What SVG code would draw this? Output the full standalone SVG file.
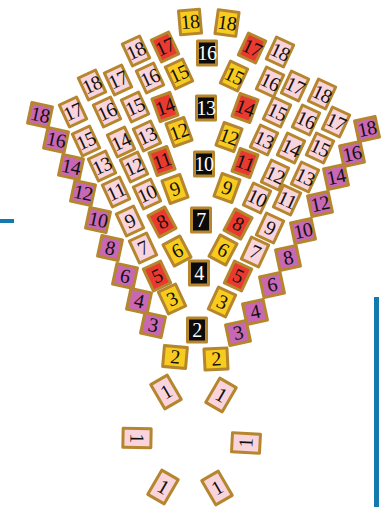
<svg xmlns="http://www.w3.org/2000/svg" width="382" height="507" viewBox="0 0 382 507">
<style>
rect.t{stroke:#b5862e;stroke-width:3;stroke-linejoin:round}
.p rect{fill:#fad4dc}
.r rect{fill:#ea3a2f}
.y rect{fill:#f8cc1e}
.k rect{fill:#0b0b0b}
.m rect{fill:#c868b4}
text{font-family:"Liberation Serif","DejaVu Serif",serif;font-size:20px;letter-spacing:-0.6px;text-anchor:middle;fill:#111}
.k text{fill:#fff}
</style>
<rect x="0" y="219" width="14" height="4" fill="#1479ad"/>
<rect x="374" y="297" width="5" height="210" fill="#1479ad"/>
<g id="tiles">
<!-- top -->
<g id="y18L" class="y" transform="translate(190,22) rotate(-5)"><rect class="t" x="-10.5" y="-12" width="21" height="24"/><text y="6.5">18</text></g>
<g id="y18R" class="y" transform="translate(227,23) rotate(8)"><rect class="t" x="-10.5" y="-12" width="21" height="24"/><text y="6.5">18</text></g>
<!-- black column -->
<g id="k16" class="k" transform="translate(207,53)"><rect class="t" x="-9.5" y="-12" width="19" height="24"/><text y="6.5">16</text></g>
<g id="k13" class="k" transform="translate(206,108)"><rect class="t" x="-9.5" y="-12" width="19" height="24"/><text y="6.5">13</text></g>
<g id="k10" class="k" transform="translate(204,164)"><rect class="t" x="-9.5" y="-12" width="19" height="24"/><text y="6.5">10</text></g>
<g id="k7" class="k" transform="translate(201,220)"><rect class="t" x="-9.5" y="-12" width="19" height="24"/><text y="6.5">7</text></g>
<g id="k4" class="k" transform="translate(199,273)"><rect class="t" x="-9.5" y="-12" width="19" height="24"/><text y="6.5">4</text></g>
<g id="k2" class="k" transform="translate(197,330)"><rect class="t" x="-9.5" y="-12" width="19" height="24"/><text y="6.5">2</text></g>
<!-- left yellow -->
<g id="yL15" class="y" transform="translate(179,74) rotate(-25)"><rect class="t" x="-9.5" y="-12" width="19" height="24"/><text y="6.5">15</text></g>
<g id="yL12" class="y" transform="translate(179,132) rotate(-20)"><rect class="t" x="-9.5" y="-12" width="19" height="24"/><text y="6.5">12</text></g>
<g id="yL9" class="y" transform="translate(175,189) rotate(-20)"><rect class="t" x="-9.5" y="-12" width="19" height="24"/><text y="6.5">9</text></g>
<g id="yL6" class="y" transform="translate(177,251) rotate(-28)"><rect class="t" x="-9.5" y="-12" width="19" height="24"/><text y="6.5">6</text></g>
<g id="yL3" class="y" transform="translate(172,299) rotate(-25)"><rect class="t" x="-9.5" y="-12" width="19" height="24"/><text y="6.5">3</text></g>
<g id="yL2" class="y" transform="translate(175,357) rotate(5)"><rect class="t" x="-11.5" y="-10.5" width="23" height="21"/><text y="6.5">2</text></g>
<!-- right yellow -->
<g id="yR15" class="y" transform="translate(234,76) rotate(25)"><rect class="t" x="-9.5" y="-12" width="19" height="24"/><text y="6.5">15</text></g>
<g id="yR12" class="y" transform="translate(229,137) rotate(20)"><rect class="t" x="-9.5" y="-12" width="19" height="24"/><text y="6.5">12</text></g>
<g id="yR9" class="y" transform="translate(227,188) rotate(20)"><rect class="t" x="-9.5" y="-12" width="19" height="24"/><text y="6.5">9</text></g>
<g id="yR6" class="y" transform="translate(223,250) rotate(28)"><rect class="t" x="-9.5" y="-12" width="19" height="24"/><text y="6.5">6</text></g>
<g id="yR3" class="y" transform="translate(222,302) rotate(25)"><rect class="t" x="-9.5" y="-12" width="19" height="24"/><text y="6.5">3</text></g>
<g id="yR2" class="y" transform="translate(216,359) rotate(-3)"><rect class="t" x="-11.5" y="-10.5" width="23" height="21"/><text y="6.5">2</text></g>
<!-- red -->
<g id="rL17" class="r" transform="translate(165,47) rotate(-25)"><rect class="t" x="-9.5" y="-12" width="19" height="24"/><text y="6.5">17</text></g>
<g id="rL14" class="r" transform="translate(165,107) rotate(-20)"><rect class="t" x="-9.5" y="-12" width="19" height="24"/><text y="6.5">14</text></g>
<g id="rL11" class="r" transform="translate(162,161) rotate(-20)"><rect class="t" x="-9.5" y="-12" width="19" height="24"/><text y="6.5">11</text></g>
<g id="rL8" class="r" transform="translate(162,222) rotate(-28)"><rect class="t" x="-9.5" y="-12" width="19" height="24"/><text y="6.5">8</text></g>
<g id="rL5" class="r" transform="translate(157,276) rotate(-25)"><rect class="t" x="-9.5" y="-12" width="19" height="24"/><text y="6.5">5</text></g>
<g id="rR17" class="r" transform="translate(252,48) rotate(25)"><rect class="t" x="-9.5" y="-12" width="19" height="24"/><text y="6.5">17</text></g>
<g id="rR14" class="r" transform="translate(245,108) rotate(20)"><rect class="t" x="-9.5" y="-12" width="19" height="24"/><text y="6.5">14</text></g>
<g id="rR11" class="r" transform="translate(245,163) rotate(20)"><rect class="t" x="-9.5" y="-12" width="19" height="24"/><text y="6.5">11</text></g>
<g id="rR8" class="r" transform="translate(238,224) rotate(28)"><rect class="t" x="-9.5" y="-12" width="19" height="24"/><text y="6.5">8</text></g>
<g id="rR5" class="r" transform="translate(238,276) rotate(25)"><rect class="t" x="-9.5" y="-12" width="19" height="24"/><text y="6.5">5</text></g>
<!-- left pink -->
<g id="pL18a" class="p" transform="translate(136,51) rotate(-25)"><rect class="t" x="-9.5" y="-12" width="19" height="24"/><text y="6.5">18</text></g>
<g id="pL16a" class="p" transform="translate(150,78) rotate(-25)"><rect class="t" x="-9.5" y="-12" width="19" height="24"/><text y="6.5">16</text></g>
<g id="pL17a" class="p" transform="translate(118,80) rotate(-25)"><rect class="t" x="-9.5" y="-12" width="19" height="24"/><text y="6.5">17</text></g>
<g id="pL18b" class="p" transform="translate(92,85) rotate(-25)"><rect class="t" x="-9.5" y="-12" width="19" height="24"/><text y="6.5">18</text></g>
<g id="pL15a" class="p" transform="translate(135,107) rotate(-25)"><rect class="t" x="-9.5" y="-12" width="19" height="24"/><text y="6.5">15</text></g>
<g id="pL16b" class="p" transform="translate(107,112) rotate(-25)"><rect class="t" x="-9.5" y="-12" width="19" height="24"/><text y="6.5">16</text></g>
<g id="pL17b" class="p" transform="translate(73,112) rotate(-25)"><rect class="t" x="-9.5" y="-12" width="19" height="24"/><text y="6.5">17</text></g>
<g id="pL13a" class="p" transform="translate(147,136) rotate(-25)"><rect class="t" x="-9.5" y="-12" width="19" height="24"/><text y="6.5">13</text></g>
<g id="pL14" class="p" transform="translate(121,142) rotate(-25)"><rect class="t" x="-9.5" y="-12" width="19" height="24"/><text y="6.5">14</text></g>
<g id="pL15b" class="p" transform="translate(86,141) rotate(-25)"><rect class="t" x="-9.5" y="-12" width="19" height="24"/><text y="6.5">15</text></g>
<g id="pL12" class="p" transform="translate(134,167) rotate(-25)"><rect class="t" x="-9.5" y="-12" width="19" height="24"/><text y="6.5">12</text></g>
<g id="pL13b" class="p" transform="translate(102,166) rotate(-25)"><rect class="t" x="-9.5" y="-12" width="19" height="24"/><text y="6.5">13</text></g>
<g id="pL10" class="p" transform="translate(147,194) rotate(-25)"><rect class="t" x="-9.5" y="-12" width="19" height="24"/><text y="6.5">10</text></g>
<g id="pL11" class="p" transform="translate(116,192) rotate(-25)"><rect class="t" x="-9.5" y="-12" width="19" height="24"/><text y="6.5">11</text></g>
<g id="pL9" class="p" transform="translate(130,221) rotate(-25)"><rect class="t" x="-9.5" y="-12" width="19" height="24"/><text y="6.5">9</text></g>
<g id="pL7" class="p" transform="translate(143,248) rotate(-25)"><rect class="t" x="-9.5" y="-12" width="19" height="24"/><text y="6.5">7</text></g>
<!-- right pink -->
<g id="pR18a" class="p" transform="translate(280,52) rotate(25)"><rect class="t" x="-9.5" y="-12" width="19" height="24"/><text y="6.5">18</text></g>
<g id="pR16a" class="p" transform="translate(270,82) rotate(25)"><rect class="t" x="-9.5" y="-12" width="19" height="24"/><text y="6.5">16</text></g>
<g id="pR17a" class="p" transform="translate(295,86) rotate(25)"><rect class="t" x="-9.5" y="-12" width="19" height="24"/><text y="6.5">17</text></g>
<g id="pR18b" class="p" transform="translate(322,94) rotate(25)"><rect class="t" x="-9.5" y="-12" width="19" height="24"/><text y="6.5">18</text></g>
<g id="pR15a" class="p" transform="translate(277,112) rotate(25)"><rect class="t" x="-9.5" y="-12" width="19" height="24"/><text y="6.5">15</text></g>
<g id="pR16b" class="p" transform="translate(306,120) rotate(25)"><rect class="t" x="-9.5" y="-12" width="19" height="24"/><text y="6.5">16</text></g>
<g id="pR17b" class="p" transform="translate(336,122) rotate(25)"><rect class="t" x="-9.5" y="-12" width="19" height="24"/><text y="6.5">17</text></g>
<g id="pR13a" class="p" transform="translate(264,140) rotate(25)"><rect class="t" x="-9.5" y="-12" width="19" height="24"/><text y="6.5">13</text></g>
<g id="pR14" class="p" transform="translate(291,148) rotate(25)"><rect class="t" x="-9.5" y="-12" width="19" height="24"/><text y="6.5">14</text></g>
<g id="pR15b" class="p" transform="translate(320,148) rotate(25)"><rect class="t" x="-9.5" y="-12" width="19" height="24"/><text y="6.5">15</text></g>
<g id="pR12" class="p" transform="translate(275,175) rotate(25)"><rect class="t" x="-9.5" y="-12" width="19" height="24"/><text y="6.5">12</text></g>
<g id="pR13b" class="p" transform="translate(305,177) rotate(25)"><rect class="t" x="-9.5" y="-12" width="19" height="24"/><text y="6.5">13</text></g>
<g id="pR10" class="p" transform="translate(257,198) rotate(25)"><rect class="t" x="-9.5" y="-12" width="19" height="24"/><text y="6.5">10</text></g>
<g id="pR11" class="p" transform="translate(287,200) rotate(25)"><rect class="t" x="-9.5" y="-12" width="19" height="24"/><text y="6.5">11</text></g>
<g id="pR9" class="p" transform="translate(270,228) rotate(25)"><rect class="t" x="-9.5" y="-12" width="19" height="24"/><text y="6.5">9</text></g>
<g id="pR7" class="p" transform="translate(255,252) rotate(25)"><rect class="t" x="-9.5" y="-12" width="19" height="24"/><text y="6.5">7</text></g>
<!-- left purple -->
<g id="mL18" class="m" transform="translate(40,115) rotate(12)"><rect class="t" x="-10.5" y="-10.5" width="21" height="21"/><text y="6.5">18</text></g>
<g id="mL16" class="m" transform="translate(56,140) rotate(12)"><rect class="t" x="-10.5" y="-10.5" width="21" height="21"/><text y="6.5">16</text></g>
<g id="mL14" class="m" transform="translate(71,167) rotate(12)"><rect class="t" x="-10.5" y="-10.5" width="21" height="21"/><text y="6.5">14</text></g>
<g id="mL12" class="m" transform="translate(83,193) rotate(12)"><rect class="t" x="-10.5" y="-10.5" width="21" height="21"/><text y="6.5">12</text></g>
<g id="mL10" class="m" transform="translate(98,220) rotate(12)"><rect class="t" x="-10.5" y="-10.5" width="21" height="21"/><text y="6.5">10</text></g>
<g id="mL8" class="m" transform="translate(110,248) rotate(12)"><rect class="t" x="-10.5" y="-10.5" width="21" height="21"/><text y="6.5">8</text></g>
<g id="mL6" class="m" transform="translate(125,276) rotate(12)"><rect class="t" x="-10.5" y="-10.5" width="21" height="21"/><text y="6.5">6</text></g>
<g id="mL4" class="m" transform="translate(139,301) rotate(12)"><rect class="t" x="-10.5" y="-10.5" width="21" height="21"/><text y="6.5">4</text></g>
<g id="mL3" class="m" transform="translate(153,325) rotate(12)"><rect class="t" x="-10.5" y="-10.5" width="21" height="21"/><text y="6.5">3</text></g>
<!-- right purple -->
<g id="mR18" class="m" transform="translate(367,129) rotate(-12)"><rect class="t" x="-10.5" y="-10.5" width="21" height="21"/><text y="6.5">18</text></g>
<g id="mR16" class="m" transform="translate(352,154) rotate(-12)"><rect class="t" x="-10.5" y="-10.5" width="21" height="21"/><text y="6.5">16</text></g>
<g id="mR14" class="m" transform="translate(336,177) rotate(-12)"><rect class="t" x="-10.5" y="-10.5" width="21" height="21"/><text y="6.5">14</text></g>
<g id="mR12" class="m" transform="translate(320,204) rotate(-12)"><rect class="t" x="-10.5" y="-10.5" width="21" height="21"/><text y="6.5">12</text></g>
<g id="mR10" class="m" transform="translate(303,231) rotate(-12)"><rect class="t" x="-10.5" y="-10.5" width="21" height="21"/><text y="6.5">10</text></g>
<g id="mR8" class="m" transform="translate(288,258) rotate(-12)"><rect class="t" x="-10.5" y="-10.5" width="21" height="21"/><text y="6.5">8</text></g>
<g id="mR6" class="m" transform="translate(272,285) rotate(-12)"><rect class="t" x="-10.5" y="-10.5" width="21" height="21"/><text y="6.5">6</text></g>
<g id="mR4" class="m" transform="translate(255,312) rotate(-12)"><rect class="t" x="-10.5" y="-10.5" width="21" height="21"/><text y="6.5">4</text></g>
<g id="mR3" class="m" transform="translate(238,333) rotate(-12)"><rect class="t" x="-10.5" y="-10.5" width="21" height="21"/><text y="6.5">3</text></g>
<!-- pink 1 -->
<g id="p1a" class="p" transform="translate(166,392) rotate(-30)"><rect class="t" x="-9.5" y="-14" width="19" height="28"/><text y="6.5">1</text></g>
<g id="p1b" class="p" transform="translate(221,395) rotate(30)"><rect class="t" x="-9.5" y="-14" width="19" height="28"/><text y="6.5">1</text></g>
<g id="p1c" class="p" transform="translate(137,438) rotate(91)"><rect class="t" x="-9.5" y="-14" width="19" height="28"/><text y="6.5">1</text></g>
<g id="p1d" class="p" transform="translate(246,443) rotate(-87)"><rect class="t" x="-9.5" y="-14" width="19" height="28"/><text y="6.5">1</text></g>
<g id="p1e" class="p" transform="translate(163,487) rotate(30)"><rect class="t" x="-9.5" y="-14" width="19" height="28"/><text y="6.5">1</text></g>
<g id="p1f" class="p" transform="translate(217,488) rotate(-30)"><rect class="t" x="-9.5" y="-14" width="19" height="28"/><text y="6.5">1</text></g>
</g>
</svg>
